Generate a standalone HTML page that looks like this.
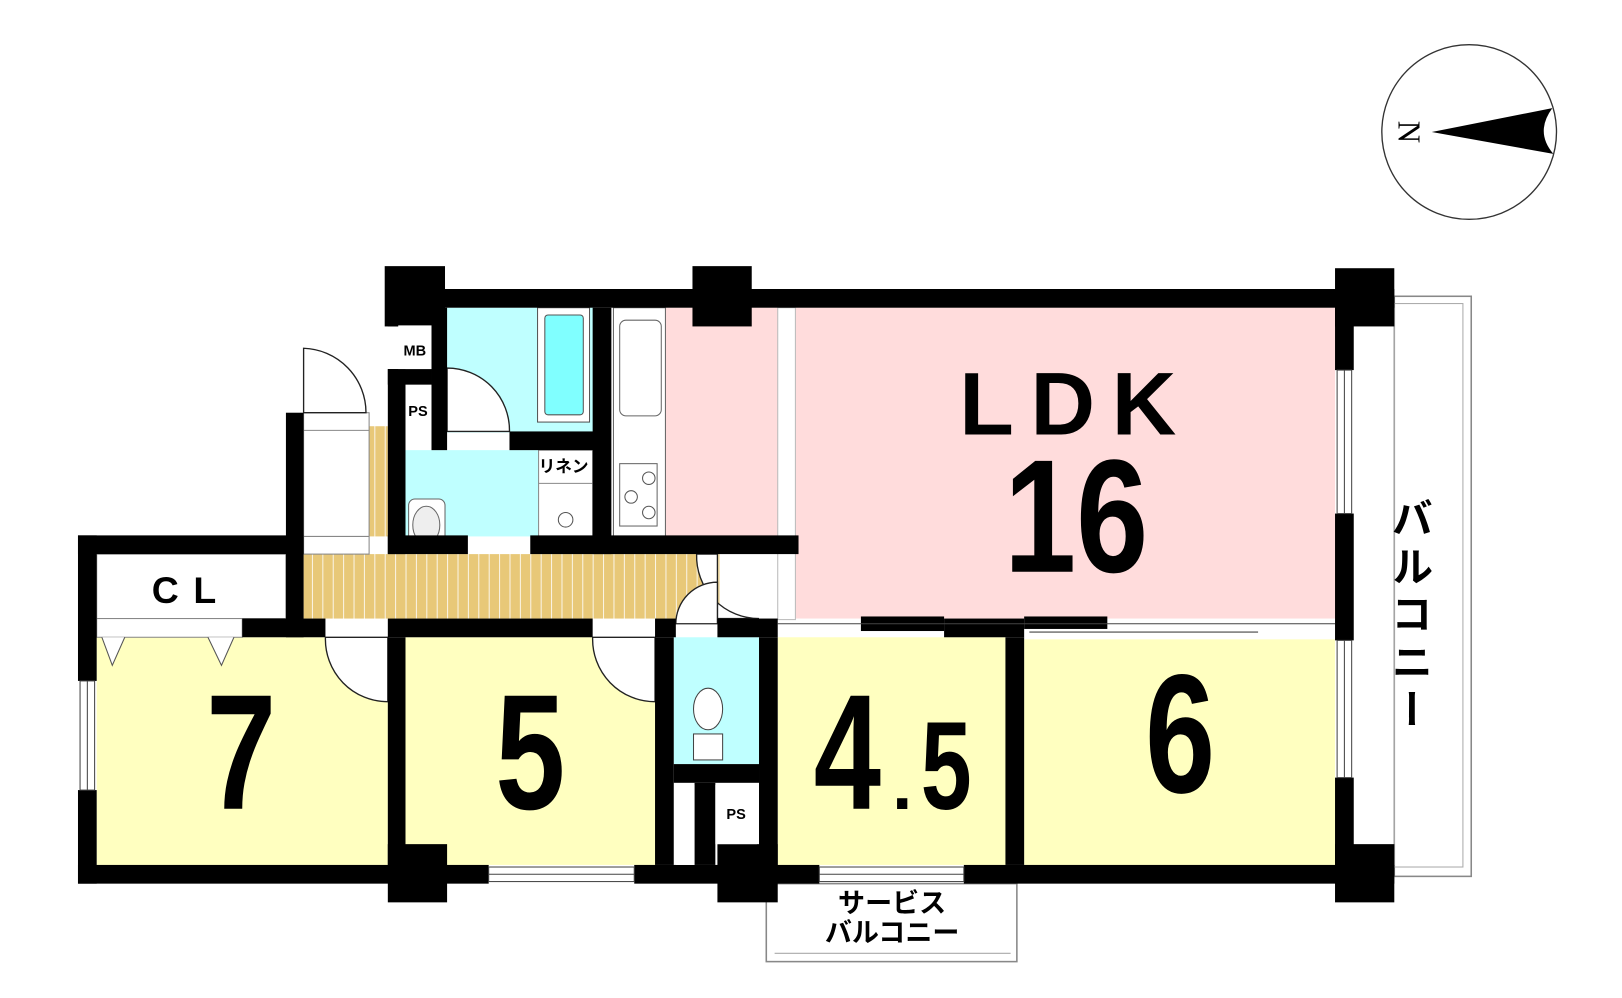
<!DOCTYPE html>
<html><head><meta charset="utf-8"><style>
html,body{margin:0;padding:0;background:#fff;width:1622px;height:998px;overflow:hidden}
svg text{font-family:"Liberation Sans","Noto Sans CJK JP",sans-serif;font-weight:bold}
</style></head><body>
<svg width="1622" height="998" viewBox="0 0 1560 960" preserveAspectRatio="none" xmlns="http://www.w3.org/2000/svg">
<defs>
<pattern id="fl" width="10" height="20" patternUnits="userSpaceOnUse"><rect width="10" height="20" fill="#e8c878"/><line x1="0.5" y1="0" x2="0.5" y2="20" stroke="#fff" stroke-width="0.8"/></pattern>
</defs>
<!-- compass -->
<circle cx="1413" cy="127" r="84" fill="none" stroke="#333" stroke-width="1.3"/>
<path d="M1377,127 L1493,104 Q1476,127 1494,148 Z" fill="#000"/>
<text x="1352" y="127" font-size="30" transform="rotate(90 1352 127)" text-anchor="middle" dominant-baseline="middle" style="font-family:'Liberation Serif';font-weight:normal">N</text>

<!-- balconies -->
<rect x="1341" y="285" width="74" height="558" fill="#fff" stroke="#888" stroke-width="1.5"/>
<rect x="1341" y="292" width="66" height="542" fill="none" stroke="#aaa" stroke-width="1"/>
<rect x="737" y="850" width="241" height="75" fill="#fff" stroke="#888" stroke-width="1.5"/>
<line x1="745" y1="917" x2="972" y2="917" stroke="#aaa"/>

<!-- floors -->
<rect x="765" y="296" width="519" height="299" fill="#ffdcdc"/>
<rect x="640" y="296" width="108" height="220" fill="#ffdcdc"/>
<rect x="748" y="296" width="17" height="300" fill="#fff" stroke="#bbb"/>
<rect x="430" y="296" width="142" height="120" fill="#bfffff"/>
<rect x="390" y="433" width="182" height="83" fill="#bfffff"/>
<rect x="518" y="433" width="52" height="83" fill="#fff" stroke="#888"/>
<line x1="518" y1="465" x2="570" y2="465" stroke="#888"/>
<circle cx="544" cy="500" r="7" fill="#fff" stroke="#555"/>
<text x="518" y="454" font-size="16">リネン</text>
<rect x="292" y="533" width="400" height="62" fill="url(#fl)"/>
<rect x="355" y="410" width="18" height="106" fill="url(#fl)"/>
<rect x="292" y="397" width="63" height="136" fill="#fff" stroke="#888"/>
<line x1="292" y1="414" x2="355" y2="414" stroke="#888"/>
<line x1="292" y1="516" x2="355" y2="516" stroke="#888"/>
<rect x="93" y="613" width="280" height="219" fill="#ffffc0"/>
<rect x="390" y="613" width="240" height="219" fill="#ffffc0"/>
<rect x="648" y="613" width="82" height="122" fill="#bfffff"/>
<rect x="748" y="613" width="219" height="219" fill="#ffffc0"/>
<rect x="985" y="615" width="299" height="217" fill="#ffffc0"/>
<rect x="93" y="533" width="182" height="62" fill="#fff" stroke="#888"/>
<rect x="93" y="595" width="140" height="18" fill="#fff" stroke="#888"/>
<path d="M98,613 L108,640 L120,613 M200,613 L213,640 L225,613" fill="#fff" stroke="#555"/>

<!-- bathtub, kitchen -->
<rect x="517" y="296" width="50" height="110" fill="#fff" stroke="#555"/>
<rect x="524" y="303" width="37" height="96" rx="3" fill="#80ffff" stroke="#555"/>
<rect x="590" y="296" width="50" height="220" fill="#fff" stroke="#666"/>
<rect x="596" y="308" width="40" height="92" rx="6" fill="#fff" stroke="#666"/>
<rect x="596" y="446" width="36" height="60" fill="#fff" stroke="#666"/>
<circle cx="624" cy="460" r="6" fill="#fff" stroke="#555"/><circle cx="607" cy="478" r="6" fill="#fff" stroke="#555"/><circle cx="624" cy="493" r="6" fill="#fff" stroke="#555"/>
<rect x="393" y="480" width="35" height="50" rx="6" fill="#fff" stroke="#666"/>
<ellipse cx="410" cy="505" rx="13" ry="18" fill="#eee" stroke="#666"/>
<!-- toilet -->
<ellipse cx="681" cy="682" rx="14" ry="20" fill="#fff" stroke="#444"/>
<rect x="667" y="706" width="28" height="25" fill="#fff" stroke="#444"/>

<!-- doors -->
<g fill="#fff" stroke="#222" stroke-width="1.3">
<path d="M292,335 A62,62 0 0 1 352,397 L292,397 Z"/>
<path d="M430,354 A60,60 0 0 1 490,415 L430,415 Z"/>
<path d="M313,613 A60,60 0 0 0 373,675 L373,613 Z"/>
<path d="M570,613 A60,60 0 0 0 630,675 L630,613 Z"/>
<path d="M670,533 A60,60 0 0 0 730,595 L690,595 L690,533 Z"/>
<path d="M690,560 A40,40 0 0 0 650,600 L690,600 Z"/>
</g>

<!-- walls -->
<g fill="#000">
<rect x="373" y="278" width="968" height="18"/>
<rect x="370" y="256" width="58" height="58"/>
<rect x="666" y="256" width="57" height="58"/>
<rect x="1284" y="258" width="57" height="56"/>
<rect x="1284" y="296" width="18" height="60"/>
<rect x="1284" y="494" width="18" height="122"/>
<rect x="1284" y="748" width="18" height="90"/>
<rect x="1284" y="812" width="57" height="56"/>
<rect x="373" y="296" width="17" height="18"/>
<rect x="415" y="296" width="15" height="137"/>
<rect x="373" y="355" width="17" height="178"/>
<rect x="373" y="355" width="42" height="15"/>
<rect x="490" y="415" width="82" height="18"/>
<rect x="570" y="296" width="18" height="237"/>
<rect x="373" y="515" width="77" height="18"/>
<rect x="510" y="515" width="258" height="18"/>
<rect x="275" y="397" width="17" height="216"/>
<rect x="75" y="515" width="217" height="18"/>
<rect x="75" y="515" width="18" height="140"/>
<rect x="75" y="760" width="18" height="90"/>
<rect x="233" y="595" width="80" height="18"/>
<rect x="373" y="595" width="197" height="18"/>
<rect x="630" y="595" width="20" height="18"/>
<rect x="690" y="595" width="58" height="18"/>
<rect x="828" y="593" width="80" height="14"/>
<rect x="908" y="595" width="77" height="18"/>
<rect x="985" y="593" width="80" height="12"/>
<rect x="373" y="613" width="17" height="219"/>
<rect x="630" y="613" width="18" height="219"/>
<rect x="730" y="613" width="18" height="219"/>
<rect x="648" y="735" width="82" height="18"/>
<rect x="668" y="753" width="20" height="79"/>
<rect x="967" y="613" width="18" height="219"/>
<rect x="75" y="832" width="395" height="18"/>
<rect x="610" y="832" width="178" height="18"/>
<rect x="927" y="832" width="414" height="18"/>
<rect x="373" y="812" width="57" height="56"/>
<rect x="690" y="812" width="58" height="56"/>
</g>
<!-- windows -->
<g stroke="#444" stroke-width="1" fill="#fff">
<rect x="1286" y="356" width="14" height="138"/><line x1="1293" y1="356" x2="1293" y2="494"/>
<rect x="1286" y="616" width="14" height="132"/><line x1="1293" y1="616" x2="1293" y2="748"/>
<rect x="77" y="655" width="14" height="105"/><line x1="84" y1="655" x2="84" y2="760"/>
<rect x="470" y="834" width="140" height="14"/><line x1="470" y1="841" x2="610" y2="841"/>
<rect x="788" y="834" width="139" height="14"/><line x1="788" y1="841" x2="927" y2="841"/>
<line x1="748" y1="600" x2="1284" y2="600"/>
<line x1="990" y1="608" x2="1210" y2="608"/>
</g>
<rect x="383" y="313" width="32" height="42" fill="#fff"/>
<rect x="390" y="372" width="25" height="42" fill="#fff"/>
<rect x="688" y="755" width="40" height="57" fill="#fff"/>
<rect x="650" y="755" width="18" height="77" fill="#fff"/>

<!-- labels -->
<text x="399" y="342" font-size="14" text-anchor="middle">MB</text>
<text x="402" y="400" font-size="14" text-anchor="middle">PS</text>
<text x="708" y="788" font-size="14" text-anchor="middle">PS</text>
<text x="184" y="580" font-size="36" text-anchor="middle" letter-spacing="14">CL</text>
<text x="1035" y="418" font-size="86" text-anchor="middle" letter-spacing="16">LDK</text>
<g transform="translate(1035 550) scale(0.82 1.02)"><text x="0" y="0" font-size="152" text-anchor="middle">16</text></g>
<g transform="translate(232 778) scale(0.78 1.02)"><text x="0" y="0" font-size="155" text-anchor="middle">7</text></g>
<g transform="translate(510 778) scale(0.78 1.02)"><text x="0" y="0" font-size="155" text-anchor="middle">5</text></g>
<g transform="translate(815 778) scale(0.75 1.02)"><text x="0" y="0" font-size="155" text-anchor="middle">4</text></g>
<text x="858" y="778" font-size="70">.</text>
<g transform="translate(910 778) scale(0.8 1.1)"><text x="0" y="0" font-size="110" text-anchor="middle">5</text></g>
<g transform="translate(1135 762) scale(0.78 1.05)"><text x="0" y="0" font-size="155" text-anchor="middle">6</text></g>
<text x="858" y="878" font-size="26" text-anchor="middle">サービス</text>
<text x="858" y="906" font-size="26" text-anchor="middle">バルコニー</text>
<text x="1355" y="478" font-size="40" letter-spacing="6" text-anchor="start" style="writing-mode:vertical-rl">バルコニー</text>
</svg>
</body></html>
